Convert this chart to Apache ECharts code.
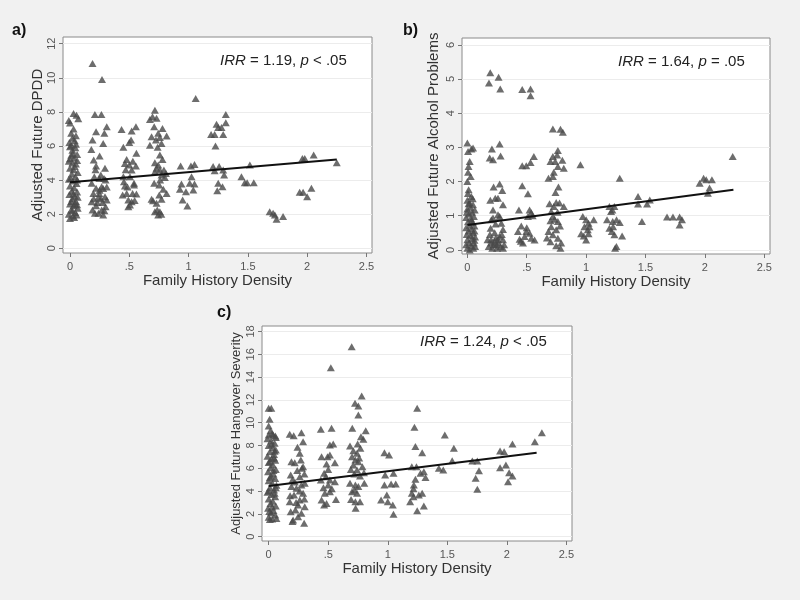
<!DOCTYPE html>
<html><head><meta charset="utf-8">
<script src="https://cdn.jsdelivr.net/npm/echarts@6/dist/echarts.min.js"></script>
<style>html,body{margin:0;padding:0;background:#f1f1f1}#c{width:800px;height:600px}</style>
</head><body><div id="c"></div>
<script>
// ---- tick values / labels ----
const xTicks = [0, 0.5, 1, 1.5, 2, 2.5];
const xTickLabels = ['0', '.5', '1', '1.5', '2', '2.5'];
const yTicksA = [0, 2, 4, 6, 8, 10, 12];
const yTicksB = [0, 1, 2, 3, 4, 5, 6];
const yTicksC = [0, 2, 4, 6, 8, 10, 12, 14, 16, 18];

// ---- panel titles / annotations ----
const panelLabels = ['a)', 'b)', 'c)'];
const yTitles = ['Adjusted Future DPDD', 'Adjusted Future Alcohol Problems', 'Adjusted Future Hangover Severity'];
const xTitle = 'Family History Density';
const irrValues = ['1.19', '1.64', '1.24'];
const pTexts = ['< .05', '= .05', '< .05'];

// ---- fitted lines ----
const fitA = [[0, 3.87], [2.25, 5.21]];
const fitB = [[0, 0.73], [2.24, 1.76]];
const fitC = [[0, 4.45], [2.25, 7.37]];

// ---- panel a: Adjusted Future DPDD ----
const pointsA = [
[0.03,7.9],[0.055,7.8],[-0.01,7.5],[0.07,7.6],[0.0,7.35],[0.03,7.0],[0.01,6.75],[0.05,6.6],[0.02,6.45],[-0.005,6.2],[0.04,6.3],
[0.0,5.95],[0.02,5.75],[0.045,5.9],[0.06,5.5],[0.01,5.45],[0.035,5.3],[-0.01,5.1],[0.02,5.0],[0.05,4.95],[0.0,4.7],[0.03,4.6],
[0.065,4.45],[0.015,4.35],[0.045,4.2],[-0.01,4.05],[0.025,3.95],[0.055,3.8],[0.0,3.65],[0.035,3.55],[0.015,3.35],[0.06,3.3],
[-0.005,3.15],[0.04,3.05],[0.02,2.9],[0.05,2.75],[0.0,2.6],[0.03,2.5],[0.065,2.35],[0.01,2.25],[0.045,2.1],[-0.01,2.0],
[0.025,1.9],[0.055,1.95],[0.0,1.75],[0.035,1.8],[0.01,6.05],[0.05,6.1],[0.025,5.55],[0.04,4.8],[0.005,4.1],[0.06,4.0],
[0.03,3.2],[0.01,2.75],[0.06,2.55],[0.02,2.2],[0.04,2.6],[0.065,3.0],[0.0,5.25],[0.06,5.15],
[0.19,10.84],[0.27,9.9],[0.21,7.85],[0.265,7.85],[0.31,7.13],[0.22,6.84],[0.29,6.74],[0.19,6.35],[0.28,6.15],[0.25,5.41],
[0.18,5.8],[0.2,5.18],[0.22,4.82],[0.295,4.69],[0.205,4.2],[0.247,4.1],[0.287,4.1],[0.183,3.81],[0.22,3.52],[0.267,3.61],
[0.197,3.22],[0.247,3.22],[0.295,3.03],[0.183,2.73],[0.23,2.68],[0.275,2.68],[0.31,2.83],[0.19,2.25],[0.21,2.05],[0.24,2.05],
[0.267,2.25],[0.3,2.44],[0.28,1.95],[0.215,4.6],[0.24,3.0],[0.26,2.9],[0.3,4.0],[0.22,2.5],[0.25,3.4],[0.28,3.5],[0.2,2.9],
[0.29,2.2],[0.26,4.3],[0.31,3.6],
[0.435,6.97],[0.52,6.88],[0.556,7.13],[0.515,6.35],[0.45,5.92],[0.56,5.57],[0.478,5.21],[0.463,4.98],[0.5,4.88],[0.52,4.59],
[0.556,4.82],[0.45,4.2],[0.506,4.2],[0.54,3.81],[0.463,3.65],[0.444,3.13],[0.478,3.22],[0.528,3.22],[0.56,3.18],[0.492,2.83],
[0.52,2.73],[0.492,2.44],[0.506,2.54],[0.54,3.71],[0.47,4.6],[0.53,5.1],[0.455,3.9],[0.545,2.8],[0.5,6.2],[0.485,3.6],
[0.716,8.1],[0.696,7.71],[0.73,7.62],[0.674,7.56],[0.78,7.03],[0.71,7.13],[0.744,6.74],[0.815,6.58],[0.688,6.54],[0.758,6.5],
[0.725,6.35],[0.674,6.05],[0.772,6.15],[0.739,5.92],[0.758,5.47],[0.78,5.21],[0.716,5.02],[0.744,4.88],[0.73,4.69],[0.758,4.59],
[0.792,4.59],[0.809,4.39],[0.716,4.49],[0.772,4.3],[0.71,3.81],[0.753,3.71],[0.787,3.46],[0.815,3.22],[0.688,2.87],[0.7,2.79],
[0.772,2.87],[0.753,3.13],[0.736,2.25],[0.716,2.15],[0.744,1.95],[0.758,2.15],[0.73,2.64],[0.77,2.0],[0.76,4.0],[0.8,4.15],
[0.933,4.82],[1.02,4.82],[1.05,4.92],[1.025,4.2],[0.94,3.77],[1.01,3.81],[1.05,3.77],[0.927,3.46],[0.978,3.32],[1.04,3.42],
[0.95,2.83],[0.99,2.48],[1.06,8.79],
[1.314,7.85],[1.314,7.36],[1.236,7.28],[1.278,7.09],[1.25,7.09],[1.292,6.68],[1.19,6.68],[1.22,6.68],[1.227,6.0],[1.207,4.79],
[1.258,4.79],[1.292,4.59],[1.3,4.3],[1.25,3.81],[1.286,3.61],[1.242,3.38],[1.22,4.55],
[1.446,4.2],[1.474,3.85],[1.494,3.85],[1.55,3.85],[1.517,4.88],
[1.684,2.15],[1.713,2.05],[1.742,1.7],[1.728,1.95],[1.797,1.86],
[1.937,3.28],[1.966,3.28],[2.0,3.03],[2.036,3.52],[1.96,5.27],[1.98,5.27],[2.055,5.47],[2.25,5.02]
];

// ---- panel b: Adjusted Future Alcohol Problems ----
const pointsB = [
[0.0,3.13],[0.006,2.88],[0.034,2.95],[0.048,2.98],[0.02,2.59],[0.01,2.44],[0.006,2.27],[0.028,2.15],[0.0,2.0],[0.011,1.76],
[0.034,1.56],[0.02,1.37],[0.048,1.32],[0.062,1.17],[0.005,1.65],[0.0,1.45],[0.025,1.25],[0.04,1.1],[0.0,1.2],[0.015,1.05],
[-0.01,0.95],[0.03,0.92],[0.055,0.98],[0.005,0.82],[0.045,0.8],[0.02,0.72],[-0.01,0.65],[0.06,0.7],[0.035,0.62],[0.01,0.55],
[0.05,0.5],[-0.005,0.45],[0.025,0.42],[0.065,0.38],[0.04,0.33],[0.0,0.3],[0.015,0.22],[0.055,0.2],[-0.01,0.15],[0.03,0.12],
[0.05,0.05],[0.0,0.05],[0.02,0.0],[0.065,0.1],[0.01,1.35],[0.045,1.5],[0.06,0.55],[-0.005,1.1],[0.035,0.85],[0.06,0.28],
[0.193,5.18],[0.182,4.88],[0.263,5.05],[0.277,4.71],[0.207,2.95],[0.272,3.1],[0.188,2.69],[0.216,2.64],[0.28,2.75],[0.221,1.84],
[0.272,1.93],[0.294,1.74],[0.235,1.51],[0.258,1.51],[0.193,1.45],[0.216,1.17],[0.3,1.32],[0.272,0.98],[0.202,0.88],[0.286,0.78],
[0.216,0.93],[0.258,1.03],[0.238,0.76],[0.196,0.63],[0.3,0.6],
[0.18,0.1],[0.2,0.3],[0.22,0.15],[0.24,0.35],[0.26,0.2],[0.28,0.1],[0.3,0.3],[0.19,0.45],[0.23,0.5],[0.27,0.4],[0.21,0.05],
[0.25,0.05],[0.29,0.45],[0.31,0.15],[0.2,0.2],[0.26,0.3],[0.23,0.25],[0.17,0.3],[0.3,0.05],[0.245,0.15],
[0.462,4.69],[0.532,4.71],[0.532,4.51],[0.462,2.46],[0.496,2.46],[0.532,2.56],[0.56,2.73],[0.462,1.88],[0.51,1.64],[0.434,1.17],
[0.524,1.17],[0.538,1.09],[0.51,0.98],[0.454,0.7],[0.426,0.54],[0.496,0.54],[0.482,0.39],[0.44,0.31],[0.538,0.34],[0.566,0.29],
[0.468,0.2],[0.524,0.49],[0.55,1.0],[0.5,0.65],[0.45,0.25],
[0.72,3.54],[0.784,3.53],[0.804,3.44],[0.762,2.91],[0.756,2.78],[0.72,2.73],[0.7,2.59],[0.74,2.59],[0.8,2.62],[0.762,2.44],
[0.812,2.39],[0.728,2.27],[0.72,2.15],[0.683,2.1],[0.767,1.84],[0.742,1.68],[0.692,1.35],[0.748,1.39],[0.776,1.37],[0.728,1.27],
[0.812,1.27],[0.706,1.12],[0.72,0.98],[0.762,0.83],[0.706,0.68],[0.748,0.59],[0.683,0.54],[0.72,0.44],[0.762,0.34],[0.7,0.24],
[0.79,0.2],[0.784,0.05],[0.748,0.12],[0.67,0.35],[0.735,0.9],[0.78,0.7],[0.7,0.85],[0.76,1.1],
[0.952,2.49],[0.972,0.98],[1.0,0.88],[1.02,0.78],[1.064,0.88],[0.986,0.68],[1.014,0.59],[0.958,0.47],[0.98,0.41],[1.0,0.29],
[1.02,0.47],[1.028,0.68],
[1.196,1.27],[1.238,1.27],[1.21,1.12],[1.176,0.88],[1.224,0.83],[1.196,0.63],[1.216,0.54],[1.238,0.44],[1.244,0.05],
[1.283,2.1],[1.221,1.17],[1.256,0.88],[1.283,0.8],[1.227,0.68],[1.303,0.41],[1.255,0.1],
[1.437,1.56],[1.437,1.34],[1.513,1.34],[1.536,1.46],[1.47,0.83],
[1.681,0.96],[1.731,0.96],[1.787,0.96],[1.807,0.88],[1.787,0.73],
[1.956,1.95],[1.989,2.1],[2.011,2.05],[2.059,2.05],[2.039,1.81],[2.025,1.66],[2.234,2.73]
];

// ---- panel c: Adjusted Future Hangover Severity ----
const pointsC = [
[0.0,11.26],[0.022,11.26],[0.008,10.3],[0.0,9.7],[0.0,8.92],[0.037,8.92],[0.056,8.83],[0.015,9.3],[0.03,9.05],[-0.01,8.6],
[0.02,8.4],[0.05,8.2],[0.0,8.0],[0.035,7.8],[0.06,7.6],[0.01,7.45],[0.045,7.2],[-0.01,7.05],[0.025,6.85],[0.055,6.7],
[0.0,6.5],[0.035,6.3],[0.015,6.05],[0.06,5.9],[-0.005,5.7],[0.04,5.5],[0.02,5.3],[0.055,5.1],[0.0,4.9],[0.03,4.7],
[0.065,4.5],[0.01,4.3],[0.045,4.1],[-0.01,3.9],[0.025,3.7],[0.055,3.5],[0.0,3.3],[0.035,3.1],[0.015,2.9],[0.06,2.7],
[-0.005,2.5],[0.04,2.3],[0.02,2.1],[0.055,1.9],[0.0,1.7],[0.03,1.55],[0.065,1.6],[0.01,1.5],[0.045,6.9],[0.01,5.2],
[0.05,3.8],[0.005,2.2],[0.06,8.7],[0.025,8.1],[0.04,5.8],[0.0,4.0],[0.06,4.3],[0.03,2.6],[0.01,6.6],[0.05,7.5],
[0.177,8.98],[0.21,8.86],[0.275,9.12],[0.242,7.84],[0.289,8.33],[0.261,7.31],[0.191,6.58],[0.219,6.49],[0.27,6.73],[0.289,6.14],
[0.185,5.41],[0.261,5.26],[0.303,4.68],[0.191,4.39],[0.233,4.24],[0.275,4.53],[0.213,3.65],[0.289,3.8],[0.177,3.07],[0.247,2.78],
[0.303,2.63],[0.185,2.19],[0.205,1.46],[0.247,1.75],[0.275,2.05],[0.298,1.17],[0.2,1.32],[0.225,2.34],[0.261,3.22],[0.2,5.0],
[0.24,5.8],[0.3,5.5],[0.18,3.6],[0.22,4.8],[0.28,6.0],[0.26,4.0],[0.3,3.3],[0.23,3.0],
[0.438,9.42],[0.528,9.5],[0.522,14.82],[0.514,8.04],[0.542,8.13],[0.444,7.02],[0.494,7.02],[0.514,7.16],[0.556,6.49],[0.486,6.37],
[0.466,5.56],[0.48,5.26],[0.438,4.97],[0.514,4.97],[0.5,4.53],[0.556,4.82],[0.472,3.8],[0.514,3.95],[0.444,3.22],[0.486,2.92],
[0.466,2.78],[0.565,3.27],[0.5,5.9],[0.53,4.2],[0.46,4.3],
[0.697,16.67],[0.781,12.34],[0.725,11.7],[0.753,11.46],[0.753,10.67],[0.702,9.5],[0.815,9.3],[0.775,8.77],[0.795,8.54],[0.747,8.13],
[0.683,7.95],[0.711,7.54],[0.77,7.75],[0.742,7.31],[0.7,7.02],[0.728,6.73],[0.753,6.58],[0.787,6.14],[0.711,6.29],[0.742,5.85],
[0.719,5.5],[0.767,5.32],[0.683,4.68],[0.728,4.53],[0.753,4.39],[0.7,3.95],[0.742,3.8],[0.767,3.07],[0.692,3.27],[0.728,3.07],
[0.73,2.49],[0.803,4.68],[0.76,6.9],[0.69,5.9],[0.8,5.6],[0.72,4.1],
[0.972,7.37],[1.011,7.16],[0.978,5.41],[1.048,5.56],[0.972,4.53],[1.028,4.62],[1.067,4.62],[0.992,3.65],[0.944,3.22],[1.0,3.07],
[1.042,2.78],[1.048,1.96],
[1.247,11.26],[1.224,9.59],[1.232,7.9],[1.289,7.37],[1.241,6.14],[1.303,5.7],[1.275,5.56],[1.317,5.18],[1.232,5.03],[1.219,4.53],
[1.289,3.8],[1.261,3.65],[1.303,2.69],[1.247,2.28],[1.202,6.14],[1.202,3.8],[1.216,3.51],[1.188,3.07],[1.216,4.2],
[1.479,8.92],[1.429,6.0],[1.466,5.85],[1.555,7.75],[1.541,6.67],
[1.71,6.64],[1.752,6.64],[1.766,5.79],[1.738,5.12],[1.752,4.15],
[1.943,7.51],[1.977,7.46],[1.992,6.29],[1.943,6.05],[2.019,5.61],[2.047,5.32],[2.01,4.82],[2.047,8.13],[2.235,8.33],[2.294,9.12]
];

const FONT = '"Liberation Sans", Arial, sans-serif';
const chart = echarts.init(document.getElementById('c'), null, {renderer: 'canvas'});

const panels = [
  {grid: {left: 63, top: 37, width: 309, height: 216}, x: [-0.059, 2.547], y: [-0.275, 12.39], yt: yTicksA, pts: pointsA, fit: fitA, nameGapY: 18, yNameSize: 15},
  {grid: {left: 462, top: 38, width: 308, height: 216}, x: [-0.045, 2.548], y: [-0.12, 6.2], yt: yTicksB, pts: pointsB, fit: fitB, nameGapY: 21, yNameSize: 15},
  {grid: {left: 262, top: 326, width: 310, height: 215}, x: [-0.056, 2.547], y: [-0.38, 18.48], yt: yTicksC, pts: pointsC, fit: fitC, nameGapY: 19, yNameSize: 13}
];

const grids = [], xAxes = [], yAxes = [], series = [];
panels.forEach((p, i) => {
  grids.push(Object.assign({show: true, backgroundColor: '#ffffff', borderColor: '#8a8a8a', borderWidth: 1}, p.grid));
  xAxes.push({
    type: 'value', gridIndex: i, min: p.x[0], max: p.x[1],
    name: xTitle, nameLocation: 'middle', nameGap: 16,
    nameTextStyle: {fontFamily: FONT, fontSize: 15, color: '#333'},
    axisLine: {show: false, onZero: false},
    axisTick: {show: true, length: 4, customValues: xTicks, lineStyle: {color: '#777'}},
    axisLabel: {customValues: xTicks, margin: 8, fontFamily: FONT, fontSize: 11, color: '#555',
      formatter: v => { const k = xTicks.findIndex(t => Math.abs(t - v) < 1e-9); return k >= 0 ? xTickLabels[k] : ''; }},
    splitLine: {show: false}
  });
  yAxes.push({
    type: 'value', gridIndex: i, min: p.y[0], max: p.y[1],
    name: yTitles[i], nameLocation: 'middle', nameGap: p.nameGapY,
    nameTextStyle: {fontFamily: FONT, fontSize: p.yNameSize, color: '#333'},
    axisLine: {show: false, onZero: false},
    axisTick: {show: true, length: 4, customValues: p.yt, lineStyle: {color: '#777'}},
    axisLabel: {customValues: p.yt, rotate: 90, margin: 6, fontFamily: FONT, fontSize: 11, color: '#555'},
    splitLine: {show: true, lineStyle: {color: '#ececec', width: 1}}
  });
  series.push({
    type: 'scatter', xAxisIndex: i, yAxisIndex: i, data: p.pts,
    symbol: 'triangle', symbolSize: [8, 7],
    itemStyle: {color: '#484848'}, z: 2
  });
  series.push({
    type: 'line', xAxisIndex: i, yAxisIndex: i, data: p.fit,
    symbol: 'none', lineStyle: {color: '#111', width: 2}, z: 3
  });
});

const annPos = [[220, 62], [618, 63], [420, 343]];
const labPos = [[12, 32], [403, 32], [217, 314]];
const graphics = [];
annPos.forEach((pos, i) => {
  graphics.push({
    type: 'text', left: pos[0], top: pos[1] - 9, silent: true,
    style: {
      text: '{i|IRR} = ' + irrValues[i] + ', {i|p} ' + pTexts[i],
      fontFamily: FONT, fontSize: 15, fill: '#222',
      rich: {i: {fontStyle: 'italic', fontFamily: FONT, fontSize: 15, fill: '#222'}}
    }
  });
});
labPos.forEach((pos, i) => {
  graphics.push({
    type: 'text', left: pos[0], top: pos[1] - 9, silent: true,
    style: {text: panelLabels[i], fontFamily: FONT, fontSize: 16, fontWeight: 'bold', fill: '#111'}
  });
});

chart.setOption({
  backgroundColor: '#f1f1f1',
  animation: false,
  grid: grids, xAxis: xAxes, yAxis: yAxes, series: series,
  graphic: graphics
});
</script>
</body></html>
